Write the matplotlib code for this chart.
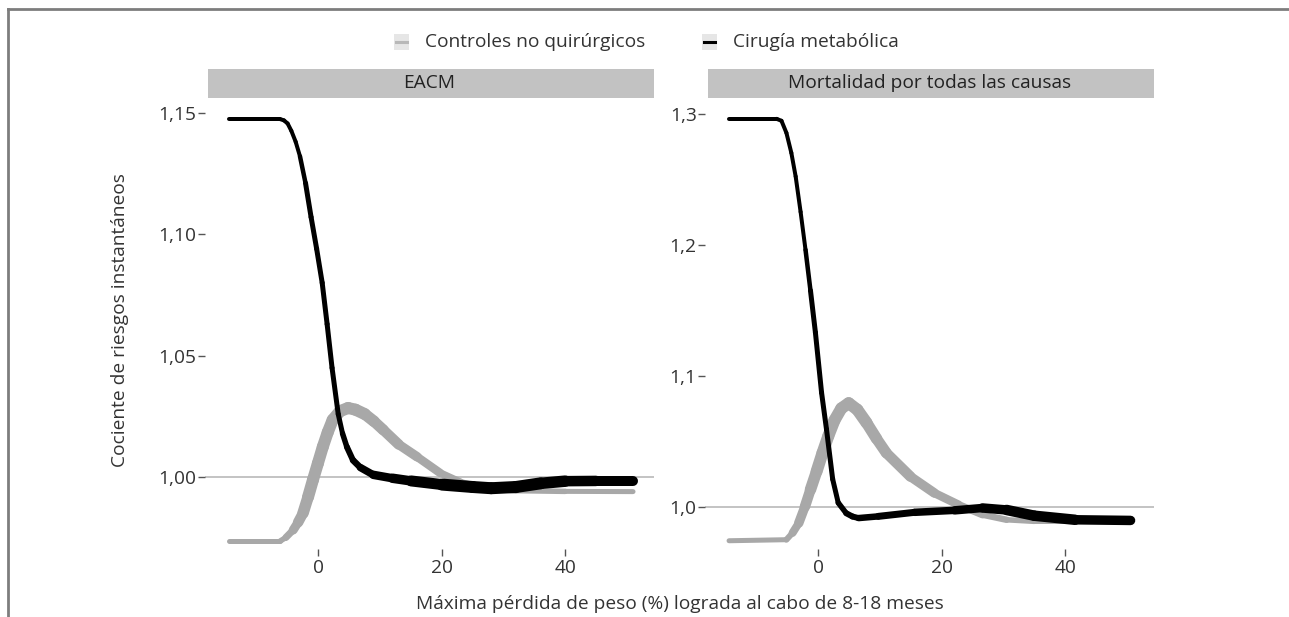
import numpy as np
import matplotlib
matplotlib.use("Agg")
import matplotlib.pyplot as plt
from matplotlib.collections import LineCollection
from matplotlib.patches import Rectangle
from matplotlib.lines import Line2D

plt.rcParams["font.family"] = ["Open Sans", "DejaVu Sans"]

# --- data: hazard ratio vs. maximum weight loss (%) at 8-18 months ---
legend_labels = ["Controles no quirúrgicos", "Cirugía metabólica"]
panel_titles = ["EACM", "Mortalidad por todas las causas"]

x_ticks = [0, 20, 40]
y_ticks_eacm = [1.00, 1.05, 1.10, 1.15]
y_ticklabels_eacm = ["1,00", "1,05", "1,10", "1,15"]
y_ticks_mort = [1.0, 1.1, 1.2, 1.3]
y_ticklabels_mort = ["1,0", "1,1", "1,2", "1,3"]

# EACM panel
eacm_ctrl_x = [-14.5, -6.2, -5.3, -4.1, -3.3, -2.5, -1.7, -0.9, -0.1, 0.7, 1.5,
               2.3, 3.5, 4.8, 6.0, 7.5, 9.0, 10.5, 13.0, 16.0, 19.7, 23.0,
               27.0, 32.0, 40.0, 51.0]
eacm_ctrl_y = [0.9738, 0.9738, 0.9752, 0.9783, 0.9815, 0.9853, 0.9918, 0.9989,
               1.0057, 1.0125, 1.0185, 1.0236, 1.0272, 1.0285, 1.0278, 1.0260,
               1.0230, 1.0195, 1.0135, 1.0084, 1.0018, 0.9980, 0.9955, 0.9945,
               0.9942, 0.9941]
eacm_surg_x = [-14.5, -6.2, -5.6, -5.0, -4.4, -3.7, -3.0, -2.1, -1.2, -0.3, 0.6,
               1.4, 2.2, 3.2, 3.9, 4.6, 5.6, 6.8, 8.9, 12.0, 15.0, 20.0, 25.0,
               28.0, 32.0, 36.0, 40.0, 45.0, 51.0]
eacm_surg_y = [1.1473, 1.1473, 1.1468, 1.1455, 1.1425, 1.1380, 1.1320, 1.1210,
               1.1070, 1.0940, 1.0800, 1.0630, 1.0450, 1.0260, 1.0180, 1.0125,
               1.0070, 1.0040, 1.0010, 0.9996, 0.9985, 0.9970, 0.9960, 0.9955,
               0.9960, 0.9975, 0.9984, 0.9985, 0.9985]

# all-cause mortality panel
mort_ctrl_x = [-14.5, -5.2, -4.2, -3.2, -2.2, -1.3, -0.3, 0.65, 1.6, 2.6, 3.7,
               4.9, 6.3, 7.8, 9.4, 11.0, 14.9, 18.8, 22.7, 26.6, 30.5, 35.0,
               44.8, 50.6]
mort_ctrl_y = [0.9740, 0.9748, 0.9800, 0.9875, 1.0000, 1.0130, 1.0270, 1.0410,
               1.0540, 1.0660, 1.0750, 1.0790, 1.0740, 1.0640, 1.0520, 1.0410,
               1.0230, 1.0104, 1.0015, 0.9939, 0.9900, 0.9888, 0.9888, 0.9890]
mort_surg_x = [-14.5, -6.8, -6.0, -5.2, -4.4, -3.7, -2.9, -2.1, -1.3, -0.5, 0.5,
               1.3, 2.3, 3.2, 4.5, 5.5, 6.5, 9.7, 15.6, 22.1, 26.6, 30.5, 35.0,
               41.6, 50.6]
mort_surg_y = [1.2960, 1.2960, 1.2945, 1.2853, 1.2700, 1.2520, 1.2250, 1.1960,
               1.1650, 1.1330, 1.0870, 1.0590, 1.0210, 1.0030, 0.9950, 0.9925,
               0.9913, 0.9926, 0.9957, 0.9972, 0.9990, 0.9975, 0.9931, 0.9900,
               0.9895]

# line thickness along each curve, in pixels
lw_eacm_ctrl = [5, 5, 6, 8, 10, 11, 12, 12, 12, 12, 12, 12, 12, 12, 12, 12, 11,
                11, 10, 9, 8, 7, 6, 6, 5, 5]
lw_eacm_surg = [4, 4, 4, 4, 4, 4, 4, 5, 5, 5, 5, 5, 5, 5, 5, 6, 6, 7, 8, 9, 10,
                12, 12, 12, 12, 12, 11, 10, 10]
lw_mort_ctrl = [5, 5, 7, 9, 10, 11, 12, 12, 12, 12, 12, 12, 12, 12, 11, 11, 10,
                9, 8, 7, 6, 5, 5, 5]
lw_mort_surg = [4, 4, 4, 4, 4, 4, 4, 4, 5, 5, 5, 5, 5, 5, 6, 6, 6, 7, 7, 8, 9,
                10, 11, 10, 9]

W, H = 1289, 617
DPI = 100
PX = 72.0 / DPI

GRAY = "#a8a8a8"
BLACK = "#000000"
TXT = "#333333"
FS = 13.8


def draw_curve(ax, x, y, widths, color):
    pts = np.column_stack([x, y])
    segs = np.stack([pts[:-1], pts[1:]], axis=1)
    w = np.asarray(widths, dtype=float)
    lws = (w[:-1] + w[1:]) / 2 * PX
    lc = LineCollection(segs, linewidths=lws, colors=color,
                        capstyle="round", joinstyle="round", zorder=3)
    ax.add_collection(lc)


fig = plt.figure(figsize=(W / DPI, H / DPI), dpi=DPI)


def fx(px):
    return px / W


def fy(py):
    return 1 - py / H


panels = [
    dict(left=205, ylim=(0.9705, 1.1560), ticks=y_ticks_eacm, labels=y_ticklabels_eacm,
         series=[(eacm_ctrl_x, eacm_ctrl_y, lw_eacm_ctrl, GRAY),
                 (eacm_surg_x, eacm_surg_y, lw_eacm_surg, BLACK)]),
    dict(left=705, ylim=(0.9677, 1.3119), ticks=y_ticks_mort, labels=y_ticklabels_mort,
         series=[(mort_ctrl_x, mort_ctrl_y, lw_mort_ctrl, GRAY),
                 (mort_surg_x, mort_surg_y, lw_mort_surg, BLACK)]),
]

top_px, bottom_px, width_px = 98, 549, 449
strip_h = 29 / (bottom_px - top_px)

for p, title in zip(panels, panel_titles):
    ax = fig.add_axes([fx(p["left"]), fy(bottom_px), width_px / W, (bottom_px - top_px) / H])
    ax.set_xlim(-18.4, 54.4)
    ax.set_ylim(*p["ylim"])
    for s in ax.spines.values():
        s.set_visible(False)
    ax.axhline(1.0, color="#b3b3b3", lw=1.1, zorder=1)
    for x, y, w, c in p["series"]:
        draw_curve(ax, x, y, w, c)
    ax.set_xticks(x_ticks)
    ax.set_xticklabels([str(t) for t in x_ticks])
    ax.set_yticks(p["ticks"])
    ax.set_yticklabels(p["labels"])
    ax.tick_params(axis="y", direction="out", length=5, width=1.0, color="#555555",
                   labelsize=FS, labelcolor=TXT, pad=1)
    ax.tick_params(axis="x", direction="out", length=5, width=1.0, color="#555555",
                   labelsize=FS, labelcolor=TXT, pad=2)
    # facet strip
    ax.add_patch(Rectangle((0.007, 1.0), 0.993, strip_h, transform=ax.transAxes,
                           facecolor="#c2c2c2", edgecolor="none", clip_on=False))
    ax.text(0.5, 1.0 + strip_h / 2, title, transform=ax.transAxes, ha="center",
            va="center", fontsize=FS, color="#222222")

# axis titles
fig.text(fx(120), fy(320), "Cociente de riesgos instantáneos", rotation=90,
         ha="center", va="center", fontsize=FS, color=TXT)
fig.text(fx(680), fy(604), "Máxima pérdida de peso (%) lograda al cabo de 8-18 meses",
         ha="center", va="center", fontsize=FS, color=TXT)

# legend
key_w, key_h = 15, 15
for label, color, kx in zip(legend_labels, ["#b8b8b8", BLACK], [401, 709]):
    fig.add_artist(Rectangle((fx(kx - key_w / 2), fy(42 + key_h / 2)), key_w / W, key_h / H,
                             transform=fig.transFigure, facecolor="#e6e6e6",
                             edgecolor="none"))
    fig.add_artist(Line2D([fx(kx - key_w / 2 + 2), fx(kx + key_w / 2 - 2)], [fy(42), fy(42)],
                          transform=fig.transFigure, color=color, lw=2.2))
    fig.text(fx(kx + 24), fy(42), label, ha="left", va="center", fontsize=FS, color=TXT)

# outer frame (top and left edges)
fig.add_artist(Line2D([fx(7.5), 1.0], [fy(8.5), fy(8.5)], transform=fig.transFigure,
                      color="#7d7d7d", lw=2.0))
fig.add_artist(Line2D([fx(7.5), fx(7.5)], [fy(8.5), 0.0], transform=fig.transFigure,
                      color="#7d7d7d", lw=2.0))

fig.savefig("out.png", dpi=DPI)
